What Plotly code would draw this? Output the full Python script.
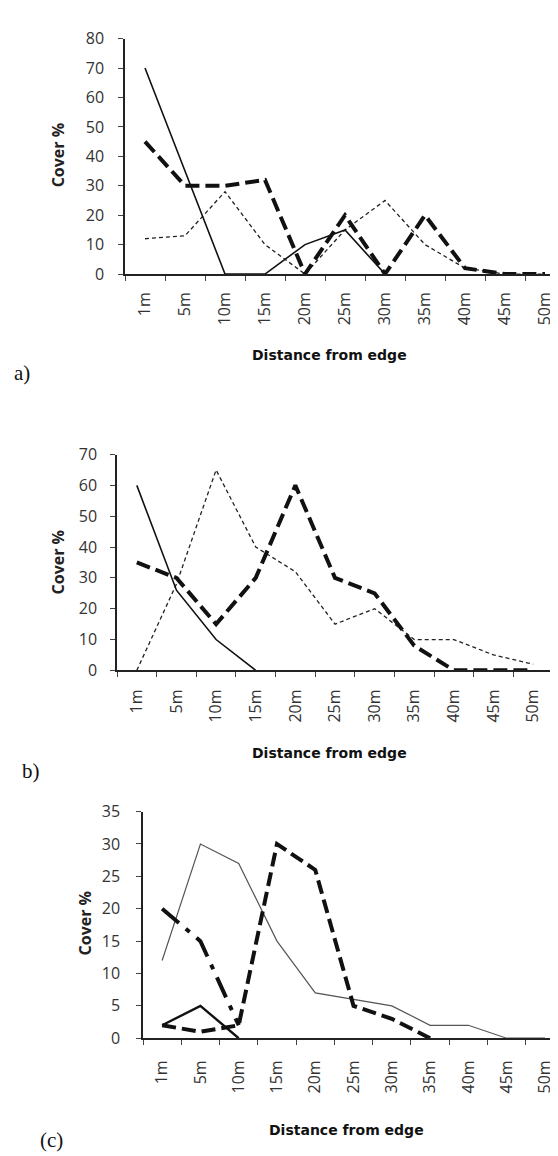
import plotly.graph_objects as go

W, H = 558, 1156

categories = ["1m", "5m", "10m", "15m", "20m", "25m", "30m", "35m", "40m", "45m", "50m"]

# Panel a
a_solid = [70, 35, 0, 0, 10, 15, 0, None, None, None, None]
a_bold_dash = [45, 30, 30, 32, 0, 20, 0, 20, 2, 0, 0]
a_fine_dash = [12, 13, 28, 10, 0, 15, 25, 10, 2, 0, 0]

# Panel b
b_solid = [60, 26, 10, 0, None, None, None, None, None, None, None]
b_bold_dash = [35, 30, 15, 30, 60, 30, 25, 8, 0, 0, 0]
b_fine_dash = [0, 28, 65, 40, 32, 15, 20, 10, 10, 5, 2]

# Panel c
c_thin = [12, 30, 27, 15, 7, 6, 5, 2, 2, 0, 0]
c_bold_solid = [2, 5, 0, None, None, None, None, None, None, None, None]
c_bold_dash = [2, 1, 2, 30, 26, 5, 3, 0, None, None, None]
c_dashdot = [20, 15, 2, None, None, None, None, None, None, None, None]

y_ticks_a = [0, 10, 20, 30, 40, 50, 60, 70, 80]
y_ticks_b = [0, 10, 20, 30, 40, 50, 60, 70]
y_ticks_c = [0, 5, 10, 15, 20, 25, 30, 35]

x_title = "Distance from edge"
y_title = "Cover %"


def px(x):
    return x / W


def py(y):
    return 1 - y / H


fig = go.Figure()

BOLD_DASH = dict(color="#111", width=4, dash="14px,6px")
FINE_DASH = dict(color="#222", width=1.3, dash="4px,3px")
SOLID = dict(color="#111", width=1.6)


def add(y, ax, line):
    fig.add_trace(go.Scatter(x=categories, y=y, mode="lines", line=line,
                             xaxis="x" + ax, yaxis="y" + ax, showlegend=False,
                             connectgaps=False, hoverinfo="skip"))


add(a_fine_dash, "", FINE_DASH)
add(a_solid, "", SOLID)
add(a_bold_dash, "", BOLD_DASH)

add(b_fine_dash, "2", FINE_DASH)
add(b_solid, "2", SOLID)
add(b_bold_dash, "2", BOLD_DASH)

add(c_thin, "3", dict(color="#555", width=1.2))
add(c_bold_solid, "3", dict(color="#111", width=2.4))
add(c_bold_dash, "3", BOLD_DASH)
add(c_dashdot, "3", dict(color="#111", width=4, dash="22px,9px,5px,9px"))

tickfont_x = dict(family="Open Sans", size=16, color="#333")
tickfont_y = dict(family="Open Sans", size=16, color="#333")


def xaxis(d0, d1, anchor, standoff, rng=(-0.5, 10.5)):
    return dict(domain=[px(d0), px(d1)], anchor=anchor, type="category",
                categoryorder="array", categoryarray=categories,
                range=list(rng), showline=True, linecolor="#222", linewidth=1.5,
                ticks="outside", ticklen=5, tickcolor="#444", tickwidth=1,
                tickson="boundaries", tickangle=-90, tickfont=tickfont_x,
                ticklabelstandoff=standoff, ticklabeloverflow="allow",
                showgrid=False, zeroline=False, fixedrange=True)


def yaxis(top, bottom, anchor, ymax, tickvals, standoff):
    return dict(domain=[py(bottom), py(top)], anchor=anchor, range=[0, ymax],
                tickvals=tickvals, showline=True, linecolor="#222", linewidth=1.5,
                ticks="outside", ticklen=5, tickcolor="#444", tickwidth=1,
                tickfont=tickfont_y, showgrid=False, zeroline=False,
                ticklabelstandoff=standoff, fixedrange=True)


fig.update_layout(
    width=W, height=H, margin=dict(l=0, r=0, t=0, b=0),
    paper_bgcolor="white", plot_bgcolor="white",
    xaxis=xaxis(117, 557, "y", 10),
    yaxis=yaxis(20, 260, "x", 80, y_ticks_a, 11),
    xaxis2=xaxis(109, 545, "y2", 11),
    yaxis2=yaxis(444, 664, "x2", 70, y_ticks_b, 10),
    xaxis3=xaxis(135, 558, "y3", 14, rng=(-0.5, 10.55)),
    yaxis3=yaxis(808, 1039, "x3", 35, y_ticks_c, 13),
)

title_font = dict(family="DejaVu Sans", size=14, color="#111")
ytitle_font = dict(family="Open Sans", size=16, color="#222")
label_font = dict(family="Liberation Serif, Times New Roman", size=21, color="#111")

annots = [
    (321, 343, "<b>%s</b>" % x_title, title_font, 0),
    (321, 748, "<b>%s</b>" % x_title, title_font, 0),
    (338, 1133, "<b>%s</b>" % x_title, title_font, 0),
    (50, 139, "<b>%s</b>" % y_title, ytitle_font, -90),
    (50, 554, "<b>%s</b>" % y_title, ytitle_font, -90),
    (77, 922, "<b>%s</b>" % y_title, ytitle_font, -90),
    (14, 361, "a)", label_font, 0),
    (23, 767, "b)", label_font, 0),
    (43, 1143, "(c)", label_font, 0),
]
for x, y, t, f, ang in annots:
    fig.add_annotation(x=px(x), y=py(y), xref="paper", yref="paper", text=t,
                       showarrow=False, font=f, textangle=ang,
                       xanchor="center", yanchor="middle")

fig.write_html("out.html")
